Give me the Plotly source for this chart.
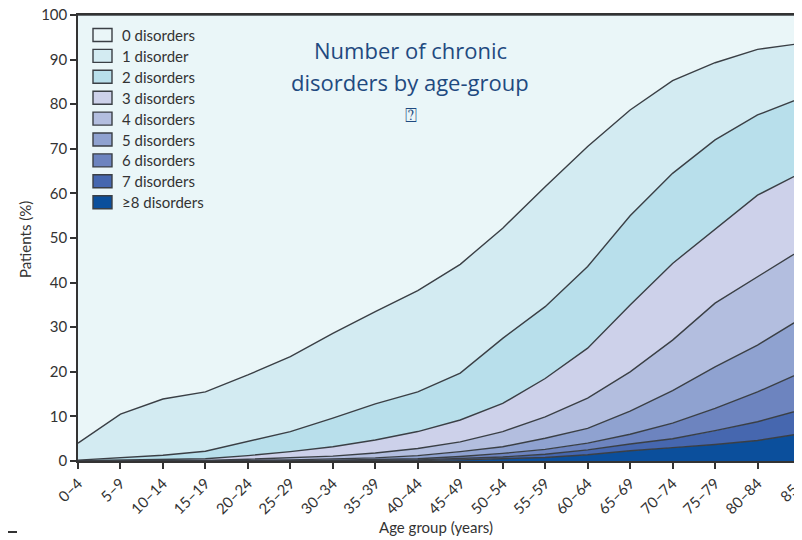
import plotly.graph_objects as go

# ---------------- data ----------------
age_groups = ["0–4", "5–9", "10–14", "15–19", "20–24", "25–29", "30–34", "35–39",
              "40–44", "45–49", "50–54", "55–59", "60–64", "65–69", "70–74",
              "75–79", "80–84", "85+"]

# cumulative share of patients (%) with at least k chronic disorders
total_pct   = [100, 100, 100, 100, 100, 100, 100, 100, 100, 100, 100, 100, 100, 100, 100, 100, 100, 100]
at_least_1  = [4.0, 10.5, 13.9, 15.5, 19.3, 23.4, 28.6, 33.5, 38.2, 44.1, 52.2, 61.5, 70.5, 78.7, 85.3, 89.3, 92.3, 93.6]
at_least_2  = [0.2, 0.8, 1.3, 2.2, 4.4, 6.6, 9.6, 12.8, 15.5, 19.7, 27.5, 34.6, 43.6, 55.0, 64.5, 72.0, 77.6, 81.3]
at_least_3  = [0.05, 0.15, 0.3, 0.5, 1.2, 2.1, 3.2, 4.7, 6.6, 9.2, 12.9, 18.5, 25.3, 35.0, 44.3, 52.0, 59.6, 64.5]
at_least_4  = [0, 0.05, 0.1, 0.15, 0.4, 0.7, 1.1, 1.8, 2.8, 4.3, 6.6, 9.9, 14.1, 20.0, 27.1, 35.4, 41.3, 47.2]
at_least_5  = [0, 0, 0.03, 0.05, 0.15, 0.25, 0.45, 0.7, 1.2, 2.1, 3.2, 5.1, 7.3, 11.2, 15.8, 21.1, 26.0, 31.8]
at_least_6  = [0, 0, 0, 0.02, 0.05, 0.1, 0.2, 0.3, 0.5, 1.0, 1.7, 2.6, 4.0, 6.0, 8.5, 11.8, 15.5, 19.7]
at_least_7  = [0, 0, 0, 0, 0.02, 0.04, 0.08, 0.15, 0.25, 0.5, 0.9, 1.5, 2.5, 3.8, 5.0, 6.8, 8.8, 11.4]
at_least_8  = [0, 0, 0, 0, 0, 0.02, 0.04, 0.07, 0.12, 0.25, 0.5, 0.8, 1.4, 2.3, 3.0, 3.7, 4.6, 6.1]

layer_labels = ["0 disorders", "1 disorder", "2 disorders", "3 disorders", "4 disorders",
                "5 disorders", "6 disorders", "7 disorders", "≥8 disorders"]
layer_tops = [total_pct, at_least_1, at_least_2, at_least_3, at_least_4,
              at_least_5, at_least_6, at_least_7, at_least_8]
layer_colors = ["#EAF6F8", "#D3EBF2", "#B8DFEB", "#CDD1EA", "#B3BEDF",
                "#8FA2D0", "#6D84BF", "#4667AF", "#0B4F9C"]

y_ticks = [0, 10, 20, 30, 40, 50, 60, 70, 80, 90, 100]

# ---------------- figure ----------------
LINE = "#3A3F45"
fig = go.Figure()

# draw from the bottom layer (>=8) upwards
for k in range(len(layer_labels) - 1, -1, -1):
    fig.add_trace(go.Scatter(
        x=age_groups, y=layer_tops[k], name=layer_labels[k],
        mode="lines",
        line=dict(color=LINE, width=1.4),
        fill="tozeroy" if k == len(layer_labels) - 1 else "tonexty",
        fillcolor=layer_colors[k],
        showlegend=False,
        hoverinfo="skip",
    ))

# the page body adds an 8px offset; lay the figure out in screen pixels minus 8
OFF = 8
W, H = 802 - OFF, 540 - OFF
L, R, T, B = 78 - OFF, 2, 15 - OFF, 540 - 461
PW, PH = W - L - R, H - T - B


def px(xs):
    """screen x pixel -> paper x"""
    return (xs - OFF - L) / PW


def py(ys):
    """screen y pixel -> paper y"""
    return (H - B - (ys - OFF)) / PH


shapes = []
annotations = []
TXT = "#333333"
FONT = "Lato, 'Open Sans', sans-serif"

# custom legend
for i, (lab, col) in enumerate(zip(layer_labels, layer_colors)):
    yc = 35 + 20.9 * i
    shapes.append(dict(type="rect", xref="paper", yref="paper",
                       x0=px(93), x1=px(112), y0=py(yc + 6.5), y1=py(yc - 6.5),
                       fillcolor=col, line=dict(color=LINE, width=1.4), layer="above"))
    annotations.append(dict(xref="paper", yref="paper", x=px(120), y=py(yc),
                            text=lab, showarrow=False, xanchor="left", yanchor="middle",
                            font=dict(family=FONT, size=15, color=TXT)))

# title text
TITLE_FONT = dict(family="'Open Sans', 'Noto Sans', sans-serif", size=22, color="#1F4A80")
annotations.append(dict(xref="paper", yref="paper", x=px(410), y=py(50), text="Number of chronic",
                        showarrow=False, xanchor="center", yanchor="middle", font=TITLE_FONT))
annotations.append(dict(xref="paper", yref="paper", x=px(410), y=py(82), text="disorders by age-group",
                        showarrow=False, xanchor="center", yanchor="middle", font=TITLE_FONT))
annotations.append(dict(xref="paper", yref="paper", x=px(411), y=py(115), text="⍰",
                        showarrow=False, xanchor="center", yanchor="middle",
                        font=dict(family="DejaVu Sans", size=20, color="#1F4A80")))

# axis titles
annotations.append(dict(xref="paper", yref="paper", x=px(436), y=py(527), text="Age group (years)",
                        showarrow=False, xanchor="center", yanchor="middle",
                        font=dict(family=FONT, size=15, color=TXT)))
annotations.append(dict(xref="paper", yref="paper", x=px(25), y=py(239), text="Patients (%)",
                        showarrow=False, xanchor="center", yanchor="middle", textangle=-90,
                        font=dict(family=FONT, size=15, color=TXT)))

# small stray rule at bottom-left of the figure
shapes.append(dict(type="line", xref="paper", yref="paper", x0=px(8), x1=px(17),
                   y0=py(532), y1=py(532), line=dict(color=TXT, width=2)))

fig.update_layout(
    width=W, height=H,
    margin=dict(l=L, r=R, t=T, b=B, pad=0, autoexpand=False),
    paper_bgcolor="white",
    plot_bgcolor="#EAF6F8",
    showlegend=False,
    shapes=shapes,
    annotations=annotations,
    xaxis=dict(
        type="category", range=[0, len(age_groups) - 1],
        automargin=False,
        showgrid=False, zeroline=False,
        showline=True, linecolor=TXT, linewidth=1.5, mirror=True,
        ticks="outside", ticklen=6, tickwidth=1.5, tickcolor=TXT,
        tickangle=-45, ticklabeloverflow="allow",
        tickfont=dict(family=FONT, size=15, color=TXT),
    ),
    yaxis=dict(
        range=[0, 100], tickvals=y_ticks,
        automargin=False,
        showgrid=False, zeroline=False,
        showline=True, linecolor=TXT, linewidth=1.5, mirror=True,
        ticks="outside", ticklen=6, tickwidth=1.5, tickcolor=TXT,
        ticklabeloverflow="allow",
        tickfont=dict(family=FONT, size=15, color=TXT),
    ),
)

fig.write_html("out.html")
